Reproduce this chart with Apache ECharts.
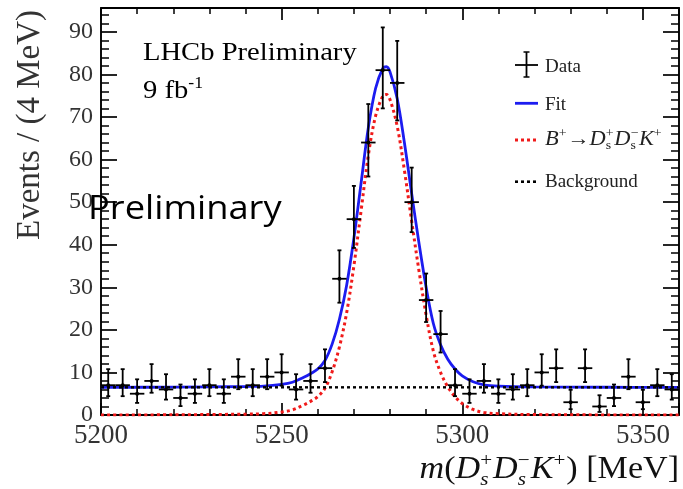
<!DOCTYPE html>
<html><head><meta charset="utf-8">
<script src="https://cdn.jsdelivr.net/npm/echarts@6/dist/echarts.min.js"></script>
<style>html,body{margin:0;padding:0;background:#fff}#c{width:683px;height:489px}</style>
</head><body><div id="c"></div>
<script>
// ---------- data ----------
const binCenters = [5202,5206,5210,5214,5218,5222,5226,5230,5234,5238,5242,5246,5250,5254,5258,5262,5266,5270,5274,5278,5282,5286,5290,5294,5298,5302,5306,5310,5314,5318,5322,5326,5330,5334,5338,5342,5346,5350,5354,5358];
const counts = [7,7,5,8,6,4,5,7,5,9,7,9,10,6,8,11,32,46,64,81,78,50,27,19,7,5,8,5,6,7,10,11,3,11,2,4,9,3,7,6];
const errLow = [2.58,2.58,2.16,2.77,2.38,1.91,2.16,2.58,2.16,2.94,2.58,2.94,3.11,2.38,2.77,3.27,5.62,6.76,7.98,8.98,8.81,7.05,5.16,4.32,2.58,2.16,2.77,2.16,2.38,2.58,3.11,3.27,1.63,3.27,1.29,1.91,2.94,1.63,2.58,2.38];
const errHigh = [3.77,3.77,3.38,3.95,3.58,3.16,3.38,3.77,3.38,4.11,3.77,4.11,4.27,3.58,3.95,4.42,6.68,7.81,9.04,10.04,9.87,8.11,6.23,5.43,3.77,3.38,3.95,3.38,3.58,3.77,4.27,4.42,2.92,4.42,2.64,3.16,4.11,2.92,3.77,3.58];
const curveMass = [5200,5220,5240,5245,5250,5253,5256,5258,5260,5262,5264,5266,5268,5270,5272,5274,5276,5278,5279,5280,5282,5284,5286,5288,5290,5292,5294,5296,5298,5300,5303,5306,5310,5320,5340,5360];
const signalCurve = [0.0,0.05,0.2,0.3,0.7,1.2,2.3,3.2,4.3,6.3,10.2,16,24,35,48,61,70.2,74.9,75.3,74.1,67.8,57.4,45.5,34,23.5,15,10,6.6,4.3,2.7,1.3,0.6,0.3,0.1,0.02,0];
const fitCurve = [6.5,6.55,6.7,6.8,7.2,7.7,8.8,9.7,10.8,12.8,16.7,22.5,30.5,41.5,54.5,67.5,76.7,81.4,81.8,80.6,74.3,63.9,52,40.5,30,21.5,16.5,13.1,10.8,9.2,7.8,7.1,6.8,6.6,6.52,6.5];
const bkgMass = [5200, 5360];
const bkgLevel = [6.5, 6.5];
const xTickLabels = [5200, 5250, 5300, 5350];
const yTickLabels = [0,10,20,30,40,50,60,70,80,90];

// ---------- helpers ----------
const SERIF = '"Liberation Serif","DejaVu Serif",serif';
const SANS = '"Open Sans","Noto Sans",sans-serif';
const mctx = document.createElement('canvas').getContext('2d');
function tw(s, font){ mctx.font = font; return mctx.measureText(s).width; }
function fnt(size, it){ return (it ? 'italic ' : '') + size + 'px ' + SERIF; }
const MID = 0.3375; // em-middle offset for Liberation Serif
function mathGraphics(pieces, size, x, baseline, scaleX, align, color){
  const ss = size * 0.62;
  let cx = 0; const items = [];
  for (const p of pieces){
    if (p.t !== undefined){
      const f = fnt(size, p.it);
      items.push({text:p.t, font:f, dx:cx, y: baseline - MID*size});
      cx += tw(p.t, f);
    } else {
      let w = 0;
      if (p.sup){ const f = fnt(ss, p.supIt); items.push({text:p.sup, font:f, dx:cx, y: baseline - 0.42*size - MID*ss}); w = Math.max(w, tw(p.sup, f)); }
      if (p.sub){ const f = fnt(ss, p.subIt); items.push({text:p.sub, font:f, dx:cx, y: baseline + 0.2*size - MID*ss}); w = Math.max(w, tw(p.sub, f)); }
      cx += w + size*0.03;
    }
  }
  const x0 = align === 'right' ? x - cx*scaleX : x;
  return items.map(it => ({type:'text', x: x0 + it.dx*scaleX, y: it.y, scaleX: scaleX, z: 100,
    style:{text: it.text, font: it.font, fill: color, align:'left', verticalAlign:'middle'}}));
}

// ---------- chart ----------
const chart = echarts.init(document.getElementById('c'), null, {renderer:'canvas'});
const axisBase = {
  axisLine:{show:true, onZero:false, lineStyle:{color:'#000', width:1.9}},
  splitLine:{show:false}
};
const xCommon = Object.assign({}, axisBase, {type:'value', min:5200, max:5360, interval:50,
  axisTick:{show:true, inside:true, length:12, lineStyle:{color:'#000', width:1.7}},
  minorTick:{show:true, splitNumber:5, length:6, lineStyle:{color:'#000', width:1.5}}});
const yCommon = Object.assign({}, axisBase, {type:'value', min:0, max:95.6, interval:10,
  axisTick:{show:true, inside:true, length:16, lineStyle:{color:'#000', width:1.7}},
  minorTick:{show:true, splitNumber:5, length:8, lineStyle:{color:'#000', width:1.5}}});

const legendX1 = 515, legendX2 = 538, legendTx = 545;
const graphics = [];
// y-axis title
graphics.push({type:'text', x:30.5, y:125, rotation:Math.PI/2, z:100,
  style:{text:'Events / (4 MeV)', font:'33px '+SERIF, fill:'#333', align:'center', verticalAlign:'middle'}});
// LHCb Preliminary
graphics.push({type:'text', x:143, y:62.3 - MID*26, scaleX:1.1, z:100,
  style:{text:'LHCb Preliminary', font:'26px '+SERIF, fill:'#000', align:'left', verticalAlign:'middle'}});
graphics.push(...mathGraphics([{t:'9 fb'},{sup:'-1'}], 26, 143, 100, 1.1, 'left', '#000'));
// big Preliminary overlay
graphics.push({type:'text', x:88, y:222.7 - 0.388*33, scaleX:1.1, z:120,
  style:{text:'Preliminary', font:'33px '+SANS, fill:'#000', align:'left', verticalAlign:'middle'}});
// x-axis title
graphics.push(...mathGraphics([
  {t:'m', it:true},{t:'('},{t:'D', it:true},{sup:'+', sub:'s', subIt:true},
  {t:'D', it:true},{sup:'\u2212', sub:'s', subIt:true},{t:'K', it:true},{sup:'+'},{t:') [MeV]'}
], 31, 679, 480, 1.1, 'right', '#111'));
// legend: Data
graphics.push({type:'line', z:100, shape:{x1:(legendX1+legendX2)/2, y1:52, x2:(legendX1+legendX2)/2, y2:77}, style:{stroke:'#000', lineWidth:1.8}});
graphics.push({type:'line', z:100, shape:{x1:legendX1, y1:65, x2:legendX2, y2:65}, style:{stroke:'#000', lineWidth:1.8}});
graphics.push({type:'line', z:100, shape:{x1:(legendX1+legendX2)/2-3, y1:52, x2:(legendX1+legendX2)/2+3, y2:52}, style:{stroke:'#000', lineWidth:1.5}});
graphics.push({type:'line', z:100, shape:{x1:(legendX1+legendX2)/2-3, y1:77, x2:(legendX1+legendX2)/2+3, y2:77}, style:{stroke:'#000', lineWidth:1.5}});
graphics.push({type:'text', x:legendTx, y:73.3 - MID*19, z:100, style:{text:'Data', font:'19px '+SERIF, fill:'#222', align:'left', verticalAlign:'middle'}});
// Fit
graphics.push({type:'line', z:100, shape:{x1:legendX1, y1:103.3, x2:legendX2, y2:103.3}, style:{stroke:'#1c1cf0', lineWidth:2.8}});
graphics.push({type:'text', x:legendTx, y:111.7 - MID*19, z:100, style:{text:'Fit', font:'19px '+SERIF, fill:'#222', align:'left', verticalAlign:'middle'}});
// Signal
graphics.push({type:'line', z:100, shape:{x1:legendX1, y1:140, x2:legendX2, y2:140}, style:{stroke:'#f01a1a', lineWidth:3, lineDash:[3,3]}});
graphics.push(...mathGraphics([
  {t:'B', it:true},{sup:'+'},{t:'\u2192'},{t:'D', it:true},{sup:'+', sub:'s'},{t:'D', it:true},{sup:'\u2212', sub:'s'},{t:'K', it:true},{sup:'+'}
], 20, legendTx, 146, 1.12, 'left', '#222'));
// Background
graphics.push({type:'line', z:100, shape:{x1:legendX1, y1:181.7, x2:legendX2, y2:181.7}, style:{stroke:'#000', lineWidth:2.6, lineDash:[3,3]}});
graphics.push({type:'text', x:legendTx, y:188.3 - MID*19, z:100, style:{text:'Background', font:'19px '+SERIF, fill:'#222', align:'left', verticalAlign:'middle'}});

const option = {
  animation:false,
  backgroundColor:'#fff',
  grid:{left:101, right:4, top:8, bottom:74, show:false},
  xAxis:[
    Object.assign({}, xCommon, {position:'bottom',
      axisLabel:{show:true, margin:7, fontSize:27, fontFamily:SERIF, color:'#333',
        formatter:v => xTickLabels.includes(v) ? String(v) : ''}}),
    Object.assign({}, xCommon, {position:'top', axisLabel:{show:false}})
  ],
  yAxis:[
    Object.assign({}, yCommon, {position:'left',
      axisLabel:{show:true, margin:8, fontSize:24, fontFamily:SERIF, color:'#333',
        formatter:v => yTickLabels.includes(v) ? String(v) : ''}}),
    Object.assign({}, yCommon, {position:'right', axisLabel:{show:false}})
  ],
  series:[
    {type:'line', name:'Fit', data:curveMass.map((m,i)=>[m, fitCurve[i]]), smooth:0.35, showSymbol:false,
      lineStyle:{color:'#1c1cf0', width:2.8}, z:3},
    {type:'line', name:'Signal', data:curveMass.map((m,i)=>[m, signalCurve[i]]), smooth:0.35, showSymbol:false,
      lineStyle:{color:'#f01a1a', width:3, type:[3,3.2]}, z:4},
    {type:'line', name:'Background', data:bkgMass.map((m,i)=>[m, bkgLevel[i]]), showSymbol:false,
      lineStyle:{color:'#000', width:2.4, type:[3,3]}, z:5},
    {type:'custom', name:'Data', z:6,
      data: binCenters.map((b,i)=>[b, counts[i], errLow[i], errHigh[i]]),
      renderItem:(params, api)=>{
        const x = api.value(0), y = api.value(1), lo = api.value(2), hi = api.value(3);
        const c = api.coord([x, y]);
        const t = api.coord([x, y + hi]);
        const b = api.coord([x, y - lo]);
        const l = api.coord([x - 2, y]);
        const r = api.coord([x + 2, y]);
        const st = {stroke:'#000', lineWidth:1.8};
        return {type:'group', children:[
          {type:'line', shape:{x1:c[0], y1:t[1], x2:c[0], y2:b[1]}, style:st},
          {type:'line', shape:{x1:l[0], y1:c[1], x2:r[0], y2:c[1]}, style:st},
          {type:'line', shape:{x1:c[0]-2, y1:t[1], x2:c[0]+2, y2:t[1]}, style:st},
          {type:'line', shape:{x1:c[0]-2, y1:b[1], x2:c[0]+2, y2:b[1]}, style:st},
          {type:'circle', shape:{cx:c[0], cy:c[1], r:2}, style:{fill:'#000'}}
        ]};
      }}
  ],
  graphic: graphics
};
chart.setOption(option);
</script></body></html>
